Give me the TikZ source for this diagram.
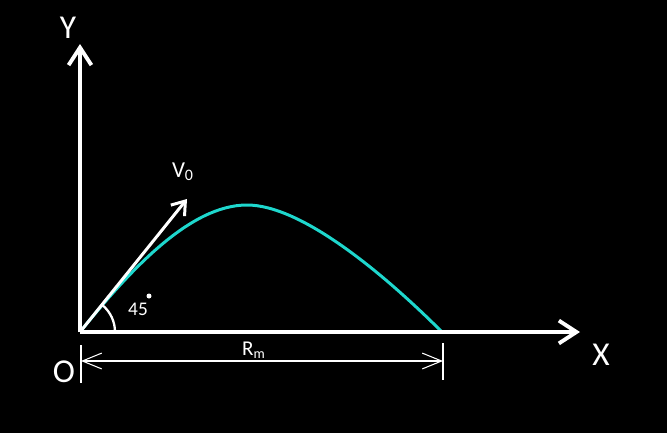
\documentclass[tikz,border=0pt]{standalone}
\usepackage{fontspec}
\setmainfont{Carlito}
\usetikzlibrary{arrows.meta}
\definecolor{pathcyan}{RGB}{30,215,205}
\begin{document}
\begin{tikzpicture}[x=0.02cm,y=-0.02cm,
  axis/.style={white,line width=2.2pt,-{Straight Barb[length=10pt,width=13pt,line width=2.2pt]}},
  vel/.style={white,line width=1.7pt,-{Straight Barb[length=7pt,width=10pt,line width=1.7pt]}},
  dim/.style={white,line width=0.6pt,{Straight Barb[length=11pt,width=9pt]}-{Straight Barb[length=11pt,width=9pt]}},
  lbl/.style={white,inner sep=0pt}]
\fill[black] (0,0) rectangle (667,433);
\coordinate (O) at (80,332);
\coordinate (ytip) at (80,44);
\coordinate (xtip) at (580,332);
\coordinate (vtip) at (187,199);
\coordinate (peak) at (247,205);
\coordinate (land) at (442,332);
\coordinate (dl) at (81,361);
\coordinate (dr) at (443,361);
\draw[pathcyan,line width=1.7pt] (O) .. controls (130,270) and (190,205) .. (peak)
  .. controls (300,205) and (380,270) .. (land);
\draw[axis] (O) -- (ytip);
\draw[axis] (O) -- (xtip);
\draw[vel] (O) -- (vtip);
\draw[white,line width=1.3pt] (O) ++(35,0) arc[start angle=0,end angle=-50,radius=35];
\fill[white] (149,296) circle[radius=2.5];
\draw[white,line width=0.6pt] (81,345) -- (81,383);
\draw[white,line width=0.6pt] (443,343) -- (443,380);
\draw[dim] (dl) -- (dr);
\node[lbl,font=\fontsize{19}{19}\selectfont] (ylabel) at (68,28) {Y};
\node[lbl,font=\fontsize{19}{19}\selectfont] (xlabel) at (601,355) {X};
\node[lbl,font=\fontsize{19}{19}\selectfont] (olabel) at (64,372) {O};
\node[lbl,font=\fontsize{13}{13}\selectfont] (vlabel) at (183,172) {V\textsubscript{0}};
\node[lbl,font=\fontsize{11}{11}\selectfont] (anglelabel) at (138,309) {45};
\node[lbl,font=\fontsize{12}{12}\selectfont] (rlabel) at (254,350) {R\textsubscript{m}};
\end{tikzpicture}
\end{document}
